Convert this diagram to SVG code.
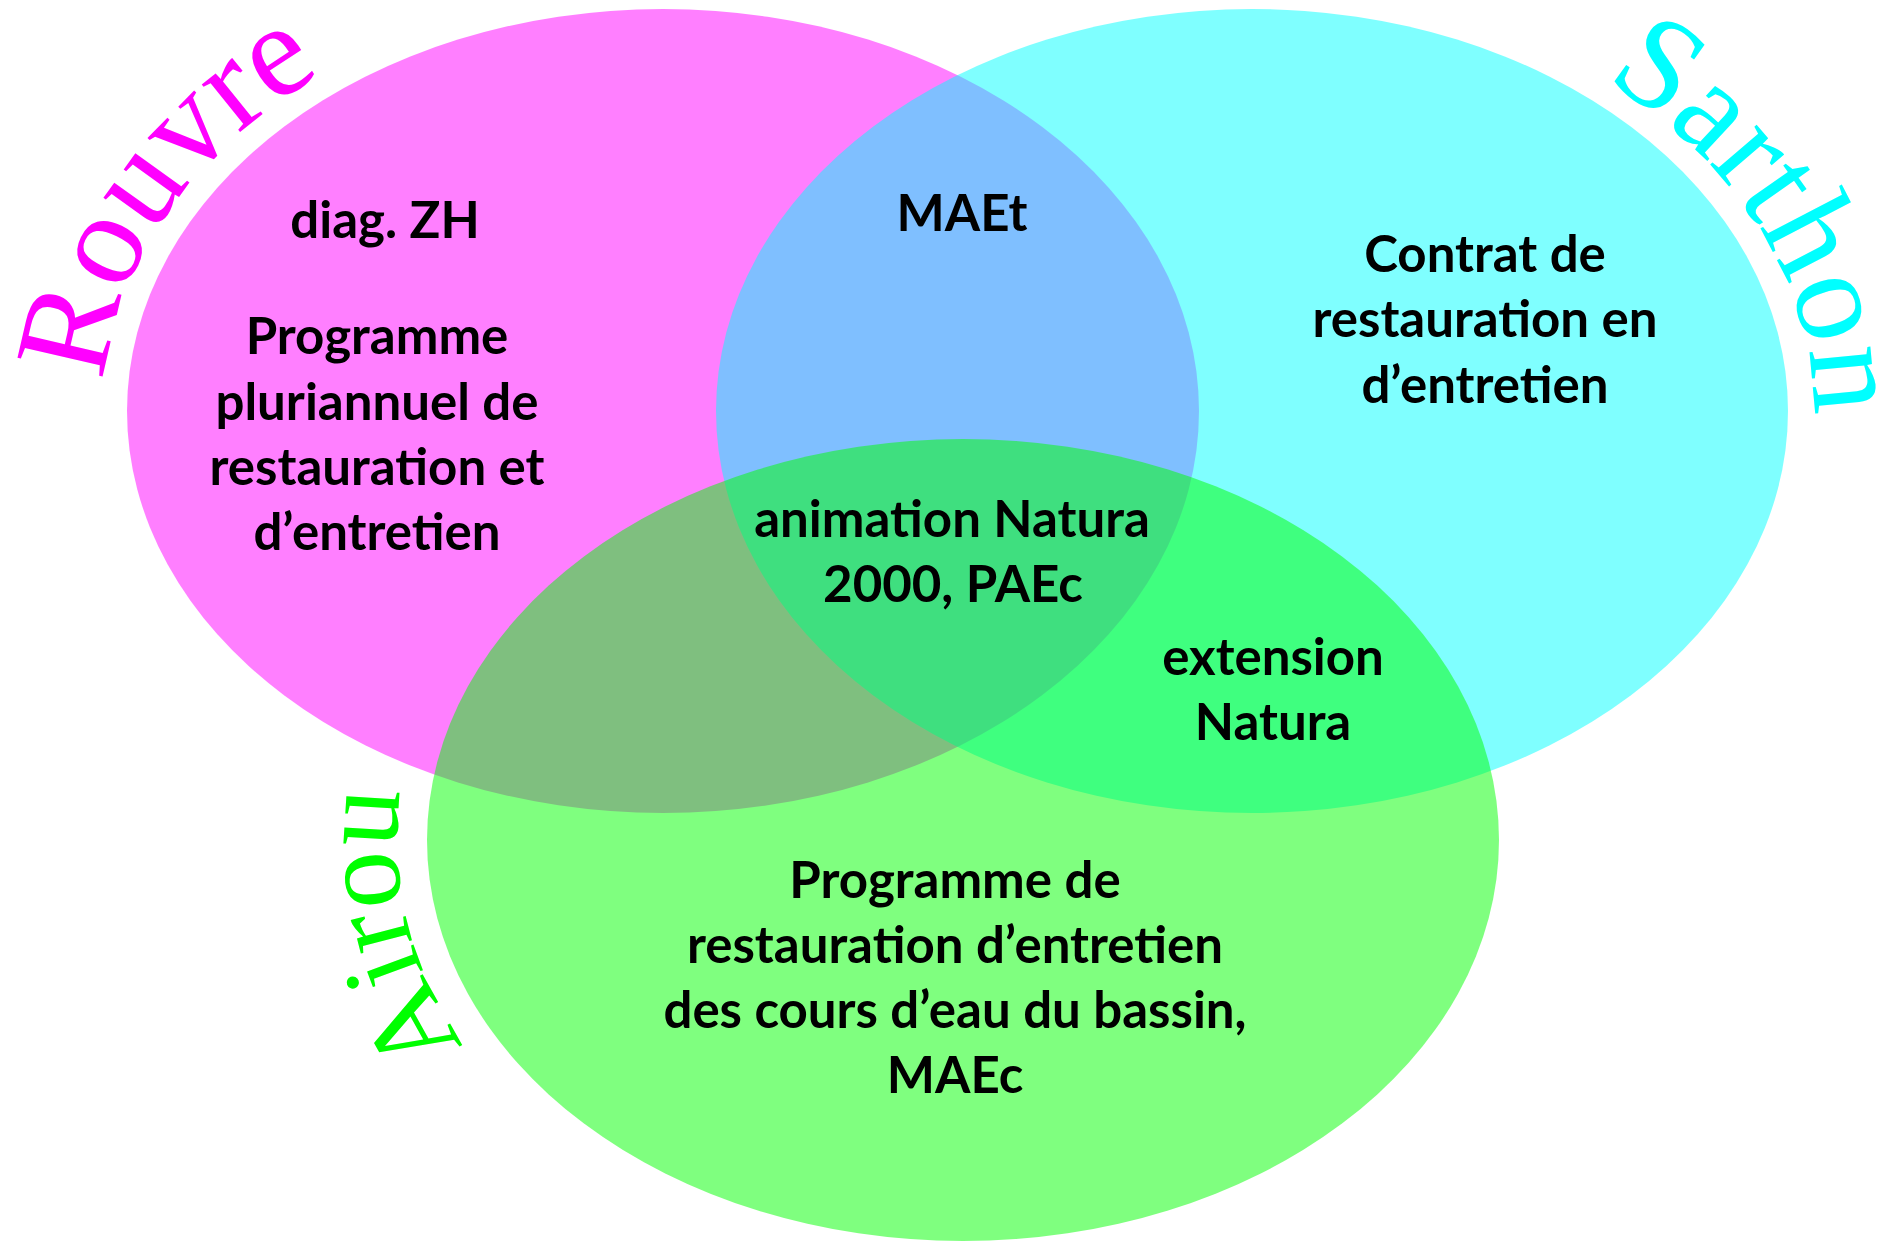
<svg xmlns="http://www.w3.org/2000/svg" xmlns:xlink="http://www.w3.org/1999/xlink" width="1903" height="1241" viewBox="0 0 1903 1241">
<style>
.t{font-family:Lato,"Liberation Sans",sans-serif;font-weight:bold;font-size:51px;fill:#000;text-anchor:middle}
.w{font-family:"Liberation Serif",serif;}
</style>
<defs>
<path id="pR" d="M104.4,381.4 A560,425 0 0 1 943,43"/>
<path id="pS" d="M1604.6,79.7 A563,428 0 0 1 1739.6,625"/>
<path id="pA" d="M464.6,1044.8 A566,432 0 0 1 680,466"/>
</defs>
<rect width="1903" height="1241" fill="#fff"/>
<g id="rouvre"><ellipse cx="663" cy="411" rx="536" ry="402" fill="#ff00ff" fill-opacity="0.5"/></g>
<g id="sarthon"><ellipse cx="1252" cy="411" rx="536" ry="402" fill="#00ffff" fill-opacity="0.5"/></g>
<g id="airou"><ellipse cx="963" cy="840" rx="536" ry="401" fill="#00ff00" fill-opacity="0.5"/></g>
<g id="labels">
<text class="w" font-size="133" fill="#ff00ff"><textPath xlink:href="#pR" href="#pR">Rouvre</textPath></text>
<text class="w" font-size="133" fill="#00ffff"><textPath xlink:href="#pS" href="#pS">Sarthon</textPath></text>
<text class="w" font-size="115" fill="#00ff00"><textPath xlink:href="#pA" href="#pA">Airou</textPath></text>
</g>
<g id="txt-rouvre">
<text class="t" x="385" y="238">diag. ZH</text>
<text class="t" x="377" y="354">Programme</text>
<text class="t" x="377" y="420">pluriannuel de</text>
<text class="t" x="377" y="485">restauration et</text>
<text class="t" x="377" y="550">d’entretien</text>
</g>
<g id="txt-maet"><text class="t" x="962" y="231">MAEt</text></g>
<g id="txt-center">
<text class="t" x="952" y="537">animation Natura</text>
<text class="t" x="953" y="602">2000, PAEc</text>
</g>
<g id="txt-sarthon">
<text class="t" x="1485" y="272">Contrat de</text>
<text class="t" x="1485" y="337">restauration en</text>
<text class="t" x="1485" y="403">d’entretien</text>
</g>
<g id="txt-ext">
<text class="t" x="1273" y="675">extension</text>
<text class="t" x="1273" y="740">Natura</text>
</g>
<g id="txt-airou">
<text class="t" x="955" y="898">Programme de</text>
<text class="t" x="955" y="963">restauration d’entretien</text>
<text class="t" x="955" y="1028">des cours d’eau du bassin,</text>
<text class="t" x="955" y="1093">MAEc</text>
</g>
</svg>
